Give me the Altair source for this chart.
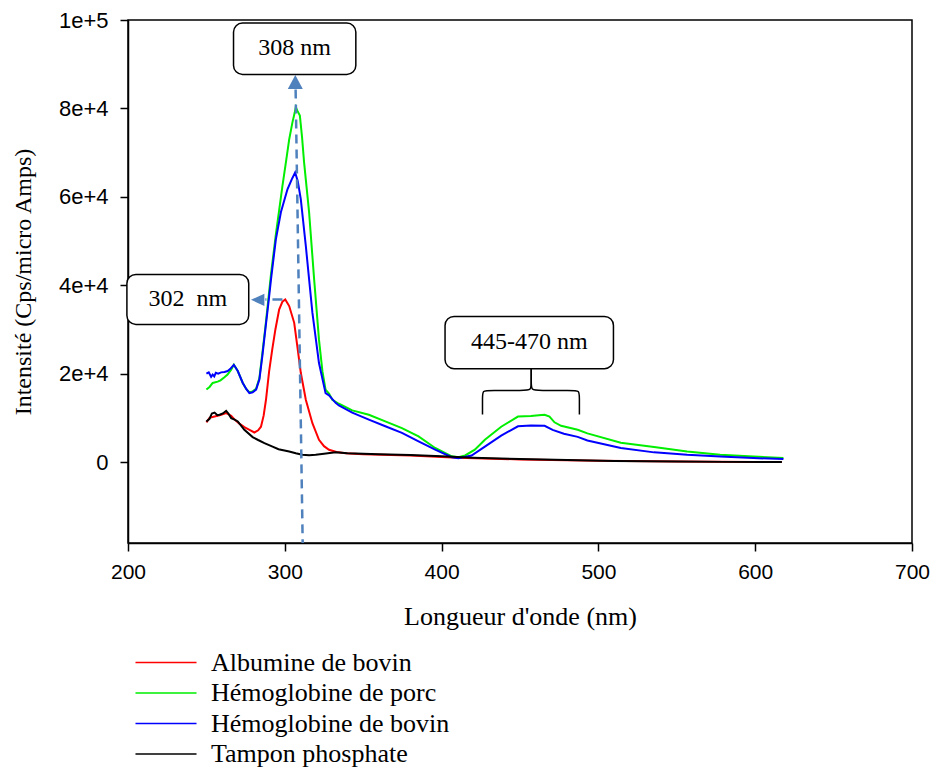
import altair as alt
import pandas as pd

# ---------------- data ----------------
series_names = ["Albumine de bovin", "Hémoglobine de porc", "Hémoglobine de bovin", "Tampon phosphate"]
series_colors = ["#FF0000", "#00EE00", "#0000FF", "#000000"]

alb_nm = [250, 252, 255.2, 258.4, 262.6, 265.8, 268, 271, 274.2, 277.5, 280.6, 283, 284.8, 286.5, 288, 290,
          292, 294, 296.4, 298.5, 300.3, 302.8, 306, 308, 310.2, 313.4, 317.6, 321.8, 325, 328.2, 333, 338.8,
          350, 380, 410, 450, 500, 550, 600, 617]
alb_val = [9000, 10000, 10300, 10600, 11100, 10500, 9600, 8700, 7900, 7300, 6700, 7200, 8000, 10500, 14100, 20500,
           25500, 30000, 34500, 36300, 36800, 35300, 31500, 26200, 20200, 14100, 8800, 5050, 3600, 2800, 2300, 2000,
           1800, 1500, 1000, 600, 300, 150, 0, 0]

porc_nm = [250, 252, 254, 257.2, 259, 261.5, 263.5, 265.8, 267.5, 270, 273.2, 275.5, 277.4, 279.5, 281.7, 283.8,
           285.8, 287.6, 289.4, 291.2, 294.3, 296.4, 298.5, 300.7, 302.8, 304.9, 306.3, 307, 308, 309.6, 311,
           312.3, 315.5, 318.7, 321.8, 324, 326, 328.2, 330.3, 334.5, 343, 353.6, 364.1, 374.7, 385.3, 395.9,
           406.5, 410.7, 415, 421.2, 427.6, 438, 448.7, 457, 462, 465.7, 468.8, 472, 476.2, 486.8, 493, 514.3,
           535.5, 556.6, 577.7, 598.9, 618]
porc_val = [16400, 17000, 17900, 18200, 18500, 19200, 19800, 20900, 22000, 20600, 17900, 16500, 15800, 16000, 16600, 19000,
            25000, 30500, 36500, 42500, 51500, 57000, 62500, 67800, 73000, 76900, 79000, 80300, 79500, 78400, 73500,
            67800, 56500, 41400, 27700, 20500, 16400, 15500, 14100, 13200, 11700, 10700, 9200, 7700, 5800, 3200,
            1300, 1100, 1500, 2800, 5050, 8000, 10300, 10400, 10600, 10700, 10300, 9000, 8200, 7300, 6500, 4400,
            3400, 2400, 1650, 1270, 900]

bov_nm = [250, 251.5, 253, 254, 255, 256, 257.5, 259.4, 261.5, 263.6, 265.5, 267.5, 270, 273.2, 275.5, 277.4,
          279.5, 281.7, 283.8, 285.7, 287.6, 289.4, 291.2, 294.3, 297.5, 301.7, 304.5, 306.6, 308.3, 310.2, 313.4,
          317.6, 321.8, 326, 328.2, 332.4, 334.5, 343, 353.6, 364.1, 374.7, 385.3, 395.9, 406.5, 410.7, 419.1,
          427.6, 438, 448.7, 457, 465.7, 470.8, 478, 486.8, 493, 514.3, 535.5, 556.6, 577.7, 598.9, 618]
bov_val = [20000, 20300, 19300, 19800, 19400, 20200, 20000, 20300, 20400, 20600, 21200, 22000, 20600, 17900, 16500, 15600,
           15800, 16400, 18700, 24000, 30000, 35500, 41300, 50400, 56500, 61700, 64000, 65500, 63500, 59500, 48900,
           33800, 22400, 15600, 15100, 13400, 12800, 11200, 9600, 8100, 6600, 4700, 2800, 1100, 900, 1500,
           3500, 6000, 8100, 8300, 8200, 7300, 6400, 5700, 4900, 3200, 2200, 1650, 1270, 900, 700]

tp_nm = [250, 252, 253.5, 255.2, 257, 258.4, 260.5, 262.6, 264, 265.8, 268, 270, 274.2, 279.5, 283, 287, 292.2,
         296, 302.8, 307, 311.2, 315.5, 319.7, 325, 332.4, 340, 360, 380, 400, 420, 450, 480, 510, 550, 580, 617]
tp_val = [9200, 9800, 11000, 11200, 10600, 10700, 11000, 11600, 11000, 9950, 9600, 9200, 7300, 5650, 5000, 4300, 3500,
          2900, 2400, 2000, 1650, 1550, 1650, 1900, 2200, 2000, 1800, 1600, 1300, 1000, 700, 450, 250, 150, 50, 0]

x_ticks = [200, 300, 400, 500, 600, 700]
y_ticks = [0, 20000, 40000, 60000, 80000, 100000]

# annotation boxes (data units)
box_labels = ["308 nm", "302\u00a0\u00a0nm", "445-470 nm"]
box_x1 = [267.3, 199.3, 402.2]
box_x2 = [345.3, 277.0, 509.6]
box_y1 = [99300, 42460, 32960]
box_y2 = [87700, 31150, 21130]
box_tx = [306.3, 238.1, 455.9]
box_ty = [93580, 36800, 27080]

# brace under the 445-470 nm box
brace_side = ["g"] * 8 + ["d"] * 8
brace_nm = [426.08, 426.08, 426.08, 430.77, 452.54, 457.17, 457.17, 457.17,
            487.88, 487.88, 487.88, 483.19, 461.8, 457.17, 457.17, 457.17]
brace_val = [10790, 14630, 16220, 16220, 16220, 16220, 18030, 21130,
             10790, 14630, 16220, 16220, 16220, 16220, 18030, 21130]

# arrows
vline_nm = [306.9]
vline_nm2 = [311.4]
vline_val = [84300]
vline_val2 = [-18300]
hline_nm = [298.5]
hline_nm2 = [287.6]
hline_val = [36800]
tri_up_nm = [306.7]
tri_up_val = [86000]
tri_left_nm = [282.7]
tri_left_val = [36700]

# ---------------- frames ----------------
rows = []
for name, xs, ys in zip(series_names, [alb_nm, porc_nm, bov_nm, tp_nm], [alb_val, porc_val, bov_val, tp_val]):
    for i, (a, b) in enumerate(zip(xs, ys)):
        rows.append({"serie": name, "nm": a, "val": b, "i": i})
df = pd.DataFrame(rows)

df_box = pd.DataFrame({"nm": box_x1, "nm2": box_x2, "val": box_y1, "val2": box_y2})
df_txt = pd.DataFrame({"nm": box_tx, "val": box_ty, "label": box_labels})
df_brace = pd.DataFrame({"side": brace_side, "nm": brace_nm, "val": brace_val,
                         "i": list(range(len(brace_nm)))})
df_vline = pd.DataFrame({"nm": vline_nm, "nm2": vline_nm2, "val": vline_val, "val2": vline_val2})
df_hline = pd.DataFrame({"nm": hline_nm, "nm2": hline_nm2, "val": hline_val})
df_tu = pd.DataFrame({"nm": tri_up_nm, "val": tri_up_val})
df_tl = pd.DataFrame({"nm": tri_left_nm, "val": tri_left_val})

xscale = alt.Scale(domain=[200, 700], nice=False, zero=False)
yscale = alt.Scale(domain=[-18300, 100000], nice=False, zero=False)

x_axis = alt.Axis(values=x_ticks, format="d", title="Longueur d'onde (nm)", labelFlush=False,
                  labelFontSize=21, titleFontSize=26, titlePadding=21)
y_axis = alt.Axis(values=y_ticks, title="Intensité (Cps/micro Amps)",
                  labelExpr="datum.value == 0 ? '0' : format(datum.value, '.0e')",
                  labelFontSize=22, labelPadding=12, titlePadding=23)


def X(f="nm"):
    return alt.X(f"{f}:Q", scale=xscale, axis=x_axis)


def Y(f="val"):
    return alt.Y(f"{f}:Q", scale=yscale, axis=y_axis)


# legend symbol: a flat stroke, wider than its size box, so that rows stay tight
legend_stroke = "M-3,0L3,0"

lines = alt.Chart(df).mark_line(strokeWidth=2).encode(
    x=X(), y=Y(),
    color=alt.Color("serie:N", sort=series_names,
                    scale=alt.Scale(domain=series_names, range=series_colors),
                    legend=alt.Legend(title=None, orient="none", legendX=25, legendY=629.5,
                                      symbolType=legend_stroke, symbolSize=414, symbolStrokeWidth=1.5,
                                      symbolFillColor="transparent",
                                      labelFont="Liberation Serif", labelFontSize=26, labelColor="black",
                                      labelOffset=32, rowPadding=4.5, padding=0, labelLimit=400)),
    order="i:Q",
)

vline = alt.Chart(df_vline).mark_rule(color="#4F81BD", strokeWidth=2.5, strokeDash=[9, 6]).encode(
    x=X(), x2="nm2:Q", y=Y(), y2="val2:Q")
hline = alt.Chart(df_hline).mark_rule(color="#4F81BD", strokeWidth=2.5, strokeDash=[10, 6]).encode(
    x=X(), x2="nm2:Q", y=Y())
tri_up = alt.Chart(df_tu).mark_point(shape="M0,-1L1.07,1L-1.07,1Z", size=196, filled=True,
                                    color="#4F81BD", opacity=1).encode(x=X(), y=Y())
tri_left = alt.Chart(df_tl).mark_point(shape="M-1,0L1,-0.9L1,0.9Z", size=180, filled=True,
                                      color="#4F81BD", opacity=1).encode(x=X(), y=Y())
boxes = alt.Chart(df_box).mark_rect(fill="white", stroke="black", strokeWidth=1.5, cornerRadius=9).encode(
    x=X(), x2="nm2:Q", y=Y(), y2="val2:Q")
texts = alt.Chart(df_txt).mark_text(font="Liberation Serif", fontSize=24, color="black",
                                    align="center", baseline="middle").encode(
    x=X(), y=Y(), text="label:N")
brace = alt.Chart(df_brace).mark_line(color="black", strokeWidth=1.5, interpolate="basis").encode(
    x=X(), y=Y(), detail="side:N", order="i:Q")

chart = alt.layer(lines, vline, hline, tri_up, tri_left, boxes, texts, brace).properties(
    width=784, height=523,
    autosize=alt.AutoSizeParams(type="none"),
    padding={"left": 120, "top": 12, "right": 18, "bottom": 226},
).configure_view(stroke="black", strokeWidth=1.5).configure_axis(
    domainColor="black", domainWidth=1.5, tickColor="black", tickWidth=1.5, tickSize=8,
    labelFont="Liberation Sans", labelFontSize=22, labelColor="black", labelPadding=10,
    titleFont="Liberation Serif", titleFontSize=24, titleFontWeight="normal", titleColor="black",
    grid=False,
)

chart.save("out.html", embed_options={"renderer": "svg", "actions": False})
